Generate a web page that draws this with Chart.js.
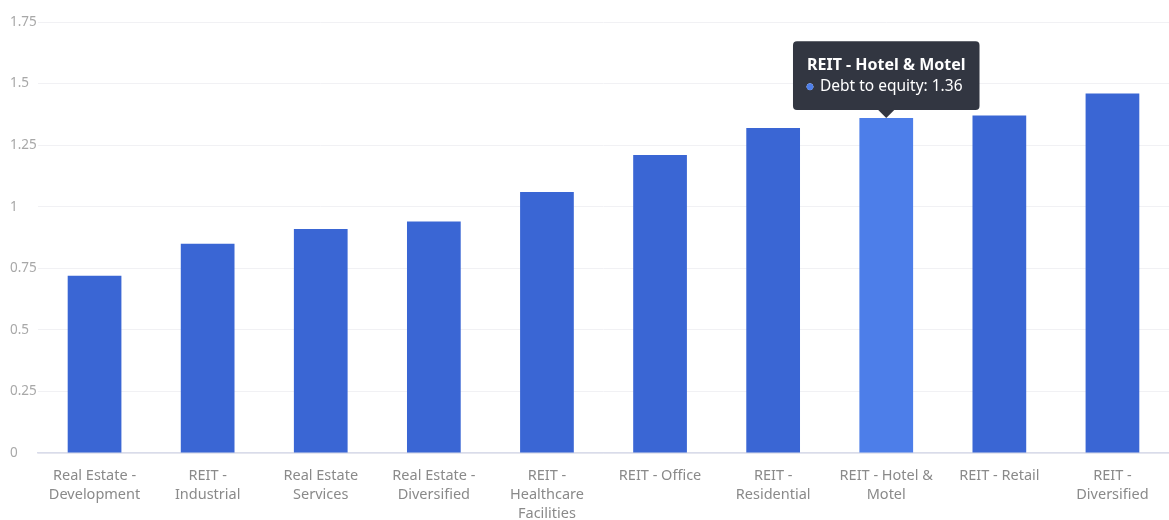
<!DOCTYPE html>
<html>
<head>
<meta charset="utf-8">
<script src="https://cdn.jsdelivr.net/npm/chart.js@4/dist/chart.umd.min.js"></script>
<style>
  html, body { margin: 0; padding: 0; background: #fff; }
  #wrap { width: 1169px; height: 520px; position: relative; }
</style>
</head>
<body>
<div id="wrap"><canvas id="chart"></canvas></div>
<script>
// categories (wrapped the way the axis shows them)
const categories = [
  ["Real Estate -", "Development"],
  ["REIT -", "Industrial"],
  ["Real Estate", "Services"],
  ["Real Estate -", "Diversified"],
  ["REIT -", "Healthcare", "Facilities"],
  ["REIT - Office"],
  ["REIT -", "Residential"],
  ["REIT - Hotel &", "Motel"],
  ["REIT - Retail"],
  ["REIT -", "Diversified"]
];
const debtToEquity = [0.72, 0.85, 0.91, 0.94, 1.06, 1.21, 1.32, 1.36, 1.37, 1.46];
const yTickValues = [0, 0.25, 0.5, 0.75, 1, 1.25, 1.5, 1.75];
const yTickLabels = ["0", "0.25", "0.5", "0.75", "1", "1.25", "1.5", "1.75"];
const seriesName = "Debt to equity";
const activeIndex = 7;

const BAR = "#3a66d4";
const BAR_HOVER = "#4d7ee9";
const FONT = "'Noto Sans', 'Open Sans', sans-serif";

const ctx = document.getElementById("chart");
const chart = new Chart(ctx, {
  type: "bar",
  data: {
    labels: categories,
    datasets: [{
      label: seriesName,
      data: debtToEquity,
      backgroundColor: debtToEquity.map((v, i) => i === activeIndex ? BAR_HOVER : BAR),
      hoverBackgroundColor: BAR_HOVER,
      borderWidth: 0,
      categoryPercentage: 1,
      barPercentage: 0.475
    }]
  },
  options: {
    responsive: true,
    maintainAspectRatio: false,
    animation: false,
    layout: { padding: { top: 22, right: 0, left: 10, bottom: 0 } },
    plugins: {
      legend: { display: false },
      tooltip: {
        enabled: true,
        yAlign: "bottom",
        xAlign: "center",
        backgroundColor: "rgba(43,47,59,0.97)",
        titleColor: "#ffffff",
        bodyColor: "#ffffff",
        titleFont: { family: FONT, size: 16, weight: "bold" },
        bodyFont: { family: FONT, size: 15.5 },
        titleMarginBottom: 2,
        padding: { top: 15, bottom: 14, left: 14, right: 14 },
        cornerRadius: 4,
        caretSize: 8,
        caretPadding: 0,
        usePointStyle: true,
        boxWidth: 6,
        boxHeight: 6,
        boxPadding: 5,
        callbacks: {
          title: items => categories[items[0].dataIndex].join(" "),
          label: item => seriesName + ": " + item.raw,
          labelColor: () => ({ borderColor: BAR_HOVER, backgroundColor: BAR_HOVER }),
          labelPointStyle: () => ({ pointStyle: "circle", rotation: 0 })
        }
      }
    },
    scales: {
      x: {
        afterFit: axis => { axis.height = 67; },
        grid: { display: false, drawTicks: false },
        border: { display: true, color: "#d9dcea", width: 1.5 },
        ticks: {
          color: "#8a8a8a",
          font: { family: FONT, size: 14.5, lineHeight: "19px" },
          padding: 13,
          maxRotation: 0,
          autoSkip: false
        }
      },
      y: {
        min: 0,
        max: 1.75,
        afterBuildTicks: axis => { axis.ticks = yTickValues.map(v => ({ value: v })); },
        afterFit: axis => { axis.width = 28; },
        grid: { color: "#f1f1f4", drawTicks: false },
        border: { display: false },
        ticks: {
          color: "#a8a8a8",
          font: { family: FONT, size: 13.5 },
          crossAlign: "far",
          padding: 10,
          callback: v => yTickLabels[yTickValues.indexOf(v)]
        }
      }
    }
  }
});

// show the hovered bar tooltip as in the picture
chart.setActiveElements([{ datasetIndex: 0, index: activeIndex }]);
chart.tooltip.setActiveElements([{ datasetIndex: 0, index: activeIndex }], { x: 0, y: 0 });
chart.update();
</script>
</body>
</html>
